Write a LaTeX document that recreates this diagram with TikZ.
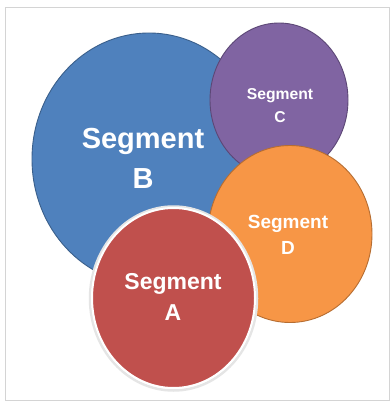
\documentclass[tikz,border=0pt]{standalone}
\usepackage{fontspec}
\setmainfont{Liberation Sans}
\usetikzlibrary{shapes.geometric}
\definecolor{cB}{HTML}{4F81BD}
\definecolor{cBd}{HTML}{3A5F8B}
\definecolor{cC}{HTML}{8064A2}
\definecolor{cCd}{HTML}{5C4776}
\definecolor{cD}{HTML}{F79646}
\definecolor{cDd}{HTML}{B66D31}
\definecolor{cA}{HTML}{C0504D}
\definecolor{frame}{HTML}{D4D4D4}
\tikzset{
  seg/.style={ellipse, inner sep=0pt, line width=0.9pt},
  lbl/.style={text=white, align=center, font=\bfseries},
}
\begin{document}
\begin{tikzpicture}[x=1pt,y=-1pt]
\useasboundingbox (0,0) rectangle (390,403);
\fill[white] (0,0) rectangle (390,403);
\draw[frame, line width=1pt] (5,7.5) rectangle (389,400);
% B
\node[seg, fill=cB, draw=cBd, minimum width=234pt, minimum height=252pt] (B) at (149,159) {};
% C
\node[seg, fill=cC, draw=cCd, minimum width=138pt, minimum height=154pt] (C) at (279,100) {};
% D
\node[seg, fill=cD, draw=cDd, minimum width=164pt, minimum height=177pt] (D) at (290,234) {};
% A shadow + circle
\node[ellipse, inner sep=0pt, draw=black!10, line width=2.5pt, minimum width=167pt, minimum height=184pt] (Ash) at (173.5,298.5) {};
\node[seg, fill=cA, draw=white, line width=2pt, minimum width=163pt, minimum height=180pt] (A) at (173.5,298) {};
% labels
\node[lbl, font=\bfseries\fontsize{29}{40}\selectfont] (tB) at (143,158) {Segment\\B};
\node[lbl, font=\bfseries\fontsize{15.7}{23}\selectfont] (tC) at (280,106) {Segment\\C};
\node[lbl, font=\bfseries\fontsize{19}{26}\selectfont] (tD) at (288,235) {Segment\\D};
\node[lbl, font=\bfseries\fontsize{23}{31}\selectfont] (tA) at (173,297) {Segment\\A};
\end{tikzpicture}
\end{document}
